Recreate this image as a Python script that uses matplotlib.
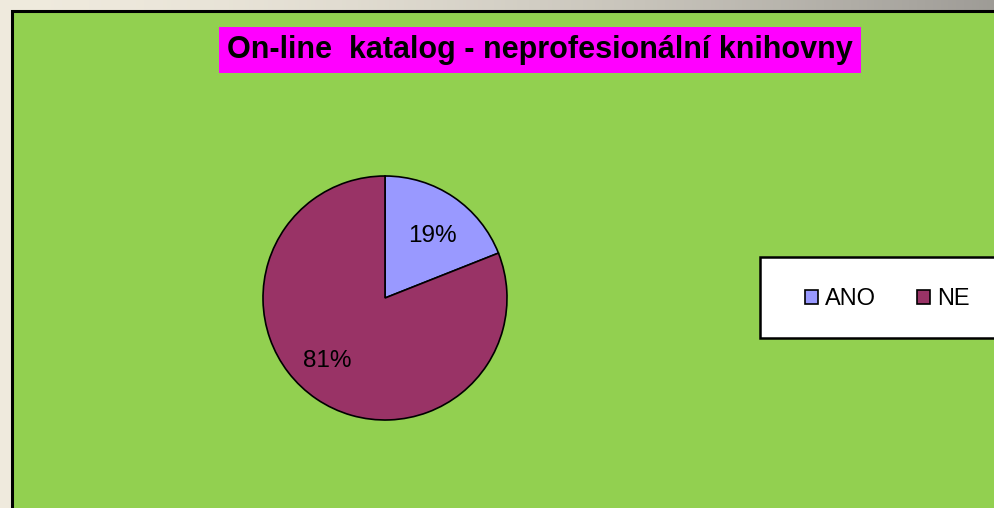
import matplotlib.pyplot as plt
import numpy as np
from matplotlib.patches import Rectangle

labels = ['ANO', 'NE']
values = [19, 81]
colors = ['#9999ff', '#993366']
title = 'On-line  katalog - neprofesionální knihovny'

W, H = 995, 508
fig = plt.figure(figsize=(W / 100, H / 100), dpi=100)

# background gradient (beige -> grey)
bg = fig.add_axes([0, 0, 1, 1])
grad = np.linspace(0, 1, 256)
c0 = np.array([0.94, 0.92, 0.87])
c1 = np.array([0.62, 0.61, 0.59])
img = c0[None, :] + (c1 - c0)[None, :] * grad[:, None] ** 1.6
bg.imshow(img[None, :, :], aspect='auto', extent=[0, W, 0, H])
bg.set_xlim(0, W)
bg.set_ylim(0, H)
bg.axis('off')

# green chart area
bg.add_patch(Rectangle((12, -5), W, H - 11 + 5, facecolor='#92d050',
                       edgecolor='black', linewidth=2.2, zorder=2))

# legend box
bg.add_patch(Rectangle((760, H - 338), 260, 81, facecolor='white',
                       edgecolor='black', linewidth=1.8, zorder=3))

# pie
cx, cy, r = 385, 298, 122
ax = fig.add_axes([(cx - r) / W, (H - cy - r) / H, 2 * r / W, 2 * r / H])
wedges, texts, autotexts = ax.pie(values, colors=colors, startangle=90, counterclock=False,
                                  autopct='%1.0f%%', pctdistance=0.66,
                                  wedgeprops=dict(edgecolor='black', linewidth=1.2),
                                  textprops=dict(fontsize=17.5, family='Liberation Sans', color='black'))
# label spots as placed in the original
for t, pos in zip(autotexts, [(0.39, 0.51), (-0.47, -0.52)]):
    t.set_position(pos)
ax.set_xlim(-1, 1)
ax.set_ylim(-1, 1)
ax.set_aspect('equal')
ax.axis('off')

fig.text(540 / W, 1 - 50 / H, title, ha='center', va='center', fontsize=22,
         fontweight='bold', family='Liberation Sans',
         bbox=dict(facecolor='#ff00ff', edgecolor='none', pad=6))

fig.legend(wedges, labels, loc='center left', bbox_to_anchor=(805 / W, 1 - 299 / H),
           ncol=2, frameon=False, prop=dict(family='Liberation Sans', size=17),
           borderpad=0, borderaxespad=0,
           handlelength=0.55, handleheight=0.55, handletextpad=0.3, columnspacing=1.75)

fig.savefig('out.png', dpi=100)
